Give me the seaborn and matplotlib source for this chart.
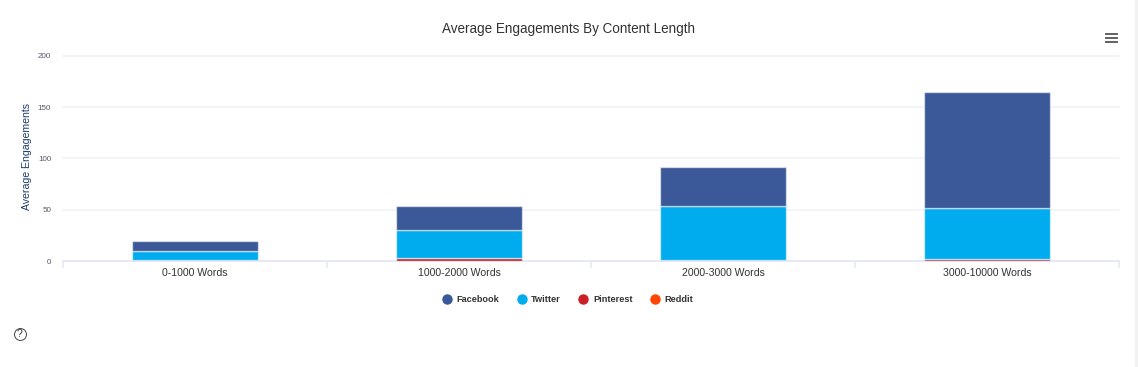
import matplotlib
matplotlib.use("Agg")
import matplotlib.pyplot as plt
from matplotlib.lines import Line2D
from matplotlib.patches import Rectangle
import pandas as pd
import seaborn as sns

categories = ["0-1000 Words", "1000-2000 Words", "2000-3000 Words", "3000-10000 Words"]
facebook = [9.6, 23.5, 38.7, 113.5]
twitter = [9.0, 27.0, 52.5, 49.0]
pinterest = [0.6, 3.0, 0.5, 2.0]
reddit = [0.2, 0.2, 0.3, 0.3]
series_names = ["Facebook", "Twitter", "Pinterest", "Reddit"]
series_colors = ["#3b5998", "#00acee", "#cb2027", "#ff4500"]
y_ticks = [0, 50, 100, 150, 200]

sns.set_theme(style="white")
plt.rcParams["font.family"] = ["Liberation Sans", "DejaVu Sans"]

W, H = 1138, 367
fig = plt.figure(figsize=(W / 100, H / 100), dpi=100)
ax = fig.add_axes([63 / W, 1 - 261 / H, (1119 - 63) / W, 205 / H])

df = pd.DataFrame({
    "category": categories * 4,
    "series": [s for s in series_names for _ in categories],
    "value": facebook + twitter + pinterest + reddit,
})
df["category"] = pd.Categorical(df["category"], categories=categories, ordered=True)

sns.histplot(
    data=df, x="category", weights="value", hue="series", hue_order=series_names,
    palette=dict(zip(series_names, series_colors)), multiple="stack", shrink=0.48,
    alpha=1, edgecolor=(1, 1, 1, 0.55), linewidth=1.0, legend=False, ax=ax, zorder=3,
)

ax.set_xlim(-0.5, 3.5)
ax.set_ylim(0, 200)
ax.set_yticks(y_ticks)
ax.set_yticklabels([str(v) for v in y_ticks], fontsize=5.8, color="#5a5566")
ax.set_xticks(range(4))
ax.set_xticklabels(categories, fontsize=7.6, color="#333333")
ax.set_xticks([-0.5, 0.5, 1.5, 2.5, 3.5], minor=True)
ax.tick_params(axis="x", which="major", bottom=False, length=0, pad=5)
ax.tick_params(axis="x", which="minor", bottom=True, length=5, width=1.2, color="#e6e9f5")
ax.tick_params(axis="y", length=0, pad=8.5)
ax.set_xlabel("")
ax.set_ylabel("Average Engagements", fontsize=7.6, color="#1f3a6e", labelpad=4, y=0.51)
ax.yaxis.grid(True, color="#f3f4f8", linewidth=1.4, zorder=0, clip_on=False)
ax.xaxis.grid(False)
ax.set_axisbelow(True)
for side in ("top", "right", "left"):
    ax.spines[side].set_visible(False)
ax.spines["bottom"].set_color("#e6e9f5")
ax.spines["bottom"].set_linewidth(1.4)

fig.text(568 / W, 1 - 29.5 / H, "Average Engagements By Content Length",
         ha="center", va="center", fontsize=9.75, color="#333333")

handles = [Line2D([], [], linestyle="", marker="o", markersize=6.5, color=c, label=n)
           for n, c in zip(series_names, series_colors)]
fig.legend(handles=handles, loc="center", bbox_to_anchor=(568 / W, 1 - 300 / H), ncol=4,
           frameon=False, prop={"size": 6.6, "weight": "bold"}, labelcolor="#333333",
           handlelength=0.9, handletextpad=0.6, columnspacing=2.0, borderpad=0)

# menu icon
for y in (34, 38, 42):
    fig.add_artist(Rectangle((1105 / W, 1 - (y + 1) / H), 13 / W, 2 / H,
                             transform=fig.transFigure, color="#666666", lw=0))
# help icon
fig.add_artist(Line2D([19.5 / W], [1 - 333.5 / H], marker="o", markersize=8.6, markerfacecolor="none",
                      markeredgecolor="#444444", markeredgewidth=0.7, linestyle="",
                      transform=fig.transFigure, zorder=1))
fig.text(19.5 / W, 1 - 334 / H, "?", ha="center", va="center", fontsize=7.5, color="#333333", zorder=5)
# page edge
fig.add_artist(Rectangle((1135 / W, 0), 3 / W, 1, transform=fig.transFigure, color="#f2f2f2", lw=0))

fig.savefig("out.png", dpi=100)
